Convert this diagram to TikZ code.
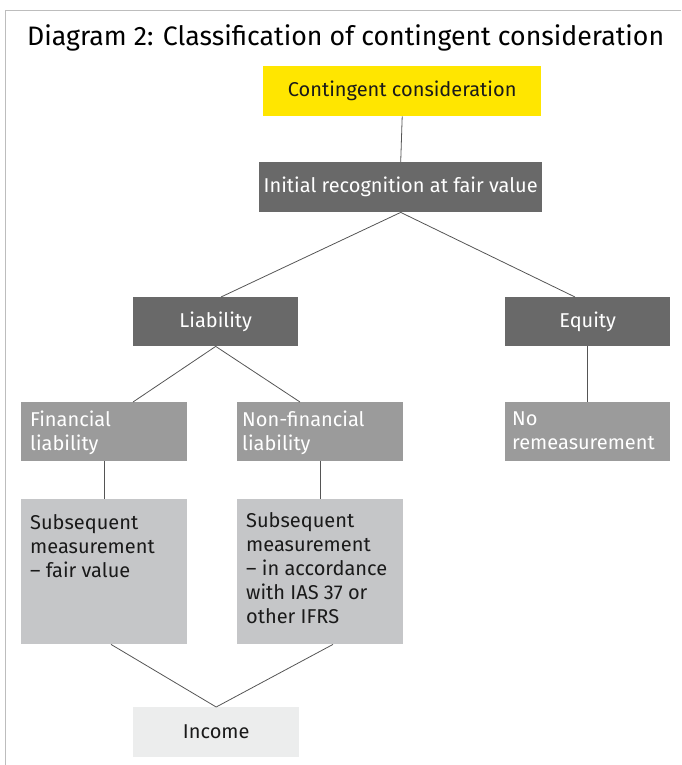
\documentclass[tikz,border=0pt]{standalone}
\usepackage{fontspec}
\setmainfont{Fira Sans}
\usetikzlibrary{calc}
\definecolor{eyyellow}{HTML}{FFE600}
\definecolor{darkbox}{HTML}{696969}
\definecolor{midbox}{HTML}{9B9B9B}
\definecolor{lightbox}{HTML}{C5C6C8}
\definecolor{palebox}{HTML}{ECEDED}
\definecolor{frame}{HTML}{BDBDBD}
\definecolor{conncol}{HTML}{555555}
\definecolor{ink}{HTML}{1A1A1A}
\begin{document}
\begin{tikzpicture}[x=1pt,y=-1pt,
  box/.style={draw=none, inner sep=0pt, anchor=north west},
  sz/.style 2 args={minimum width=#1pt, minimum height=#2pt},
  bodyfont/.style={font=\fontsize{20}{24}\selectfont},
  wtxt/.style={bodyfont, text=white},
  btxt/.style={bodyfont, text=ink},
  ltxt/.style={anchor=north west, inner sep=0pt, align=left},
  conn/.style={draw=conncol, line width=0.8pt}]
\useasboundingbox (0,0) rectangle (681,765);
% frame
\draw[frame, line width=1.2pt] (5.5,765) -- (5.5,10.5) -- (681,10.5);
% title
\node[anchor=base west, inner sep=0pt, font=\fontsize{26.7}{30}\selectfont, text=black] (title) at (27,46) {Diagram 2: Classification of contingent consideration};
% boxes
\node[box, fill=eyyellow, sz={278}{50}, btxt] (cc) at (263,66) {Contingent consideration};
\node[box, fill=darkbox, sz={283}{50}, wtxt] (ir) at (259,162) {Initial recognition at fair value};
\node[box, fill=darkbox, sz={165}{49}, wtxt] (liab) at (133,297) {Liability};
\node[box, fill=darkbox, sz={165}{49}, wtxt] (eq) at (505,297) {Equity};
\node[box, fill=midbox, sz={166}{59}] (fin) at (21,402) {};
\node[box, fill=midbox, sz={166}{59}] (nf) at (237,402) {};
\node[box, fill=midbox, sz={165}{59}] (nr) at (505,402) {};
\node[box, fill=lightbox, sz={166}{145}] (sub1) at (21,499) {};
\node[box, fill=lightbox, sz={166}{145}] (sub2) at (237,499) {};
\node[box, fill=palebox, sz={166}{50}, btxt] (inc) at (133,707) {Income};
% left-aligned texts
\node[ltxt, wtxt] (fint) at (30,411) {Financial\\liability};
\node[ltxt, wtxt] (nft) at (242,411) {Non-financial\\liability};
\node[ltxt, wtxt] (nrt) at (512,412) {No\\remeasurement};
\node[ltxt, btxt] (sub1t) at (30,514) {Subsequent\\measurement\\-- fair value};
\node[ltxt, btxt] (sub2t) at (246,512) {Subsequent\\measurement\\-- in accordance\\with IAS 37 or\\other IFRS};
% connectors
\draw[conn] (cc.south) -- (ir.north);
\draw[conn] (ir.south) -- ($(liab.north west)+(88,0)$);
\draw[conn] (ir.south) -- ($(eq.north west)+(70,0)$);
\draw[conn] (liab.south) -- ($(fin.north west)+(112,0)$);
\draw[conn] (liab.south) -- ($(nf.north west)+(63,0)$);
\draw[conn] (eq.south) -- (nr.north);
\draw[conn] (fin.south) -- (sub1.north);
\draw[conn] (nf.south) -- (sub2.north);
\draw[conn] ($(sub1.south west)+(90,0)$) -- (inc.north);
\draw[conn] ($(sub2.south west)+(96,0)$) -- (inc.north);
\end{tikzpicture}
\end{document}
